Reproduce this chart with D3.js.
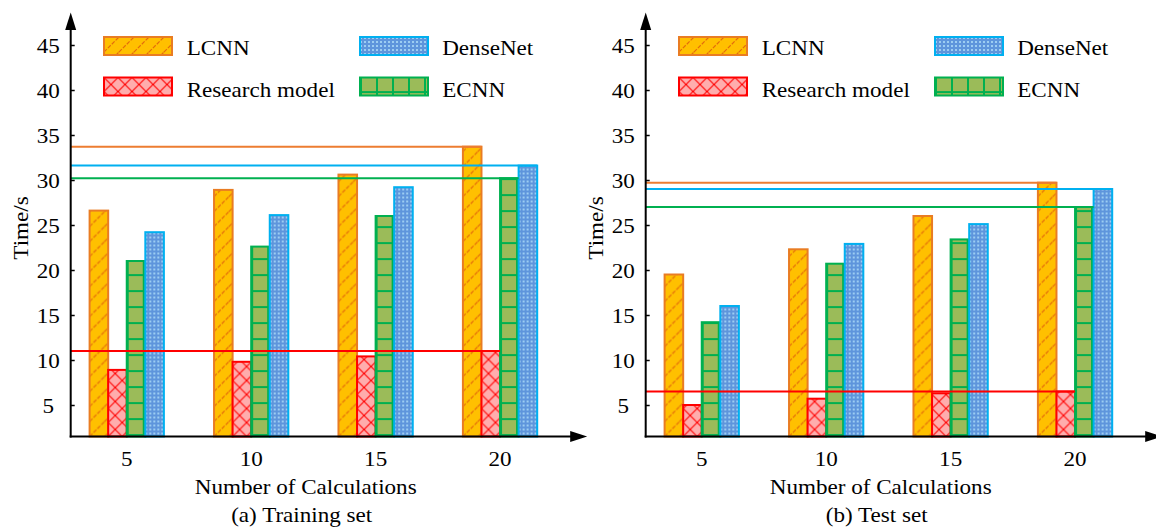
<!DOCTYPE html>
<html><head><meta charset="utf-8">
<script src="https://cdn.jsdelivr.net/npm/d3@7"></script>
<style>
body{margin:0;background:#fff}
svg text{font-family:"Liberation Serif","Times New Roman",serif;fill:#000;font-size:22px}
</style>
</head><body><svg id="c" width="1156" height="528" font-family="Liberation Serif, Times New Roman, serif"></svg>
<script>
// ---------- data ----------
const categories = ["5", "10", "15", "20"];
const seriesNames = ["LCNN", "Research model", "ECNN", "DenseNet"];
const trainLCNN = [26.6, 28.9, 30.6, 33.7];
const trainResearch = [8.9, 9.8, 10.4, 11.0];
const trainECNN = [21.0, 22.6, 26.0, 30.2];
const trainDenseNet = [24.2, 26.1, 29.2, 31.6];
const testLCNN = [19.5, 22.3, 26.0, 29.7];
const testResearch = [5.0, 5.7, 6.3, 6.5];
const testECNN = [14.2, 20.7, 23.4, 27.0];
const testDenseNet = [16.0, 22.9, 25.1, 29.0];
const yTicks = [5, 10, 15, 20, 25, 30, 35, 40, 45];
const yLabel = "Time/s";
const xLabel = "Number of Calculations";
const panelTitles = ["(a) Training set", "(b) Test set"];

const panels = [
  {title: panelTitles[0], series: [trainLCNN, trainResearch, trainECNN, trainDenseNet]},
  {title: panelTitles[1], series: [testLCNN, testResearch, testECNN, testDenseNet]}
];

// ---------- styles ----------
const styles = [
  {stroke: "#E97C23", pat: "pHatch"},
  {stroke: "#FF0000", pat: "pCross"},
  {stroke: "#00B050", pat: "pGrid"},
  {stroke: "#00B0F0", pat: "pDots"}
];
const lineColors = ["#ED7D31", "#FF0000", "#00B050", "#00B0F0"];
const SX = 1.05;

const svg = d3.select("#c");
svg.append("rect").attr("width", 1156).attr("height", 528).attr("fill", "#fff");
const defs = svg.append("defs");

// hatch
let p = defs.append("pattern").attr("id", "pHatch").attr("patternUnits", "userSpaceOnUse")
  .attr("width", 15).attr("height", 15);
p.append("rect").attr("width", 15).attr("height", 15).attr("fill", "#FFC000");
p.append("path").attr("d", "M0,15L15,0M-2,2L2,-2M13,17L17,13")
  .attr("stroke", "#E46C0A").attr("stroke-width", 1.2).attr("stroke-dasharray", "4,1.5");
// cross
p = defs.append("pattern").attr("id", "pCross").attr("patternUnits", "userSpaceOnUse")
  .attr("width", 14).attr("height", 14);
p.append("rect").attr("width", 14).attr("height", 14).attr("fill", "#FFADAD");
p.append("path").attr("d", "M0,0L14,14M14,0L0,14").attr("stroke", "#FF0000").attr("stroke-width", 1.1);
// grid
p = defs.append("pattern").attr("id", "pGrid").attr("patternUnits", "userSpaceOnUse")
  .attr("width", 16).attr("height", 16).attr("y", -2.4);
p.append("rect").attr("width", 16).attr("height", 16).attr("fill", "#9BBB59");
p.append("rect").attr("width", 16).attr("height", 2).attr("fill", "#00B050");
p.append("rect").attr("width", 2).attr("height", 16).attr("fill", "#00B050");
// dots
p = defs.append("pattern").attr("id", "pDots").attr("patternUnits", "userSpaceOnUse")
  .attr("width", 4).attr("height", 4);
p.append("rect").attr("width", 4).attr("height", 4).attr("fill", "#5E95DC");
p.append("rect").attr("width", 2).attr("height", 2).attr("fill", "#9CCDF2");

// ---------- scales ----------
const baseline = 436.5;
const y = d3.scaleLinear().domain([1.5, 45]).range([baseline, 45]);

function stretch(sel, x, yy, anchor) {
  sel.attr("x", 0).attr("y", 0).attr("dy", null)
    .attr("text-anchor", anchor || "middle")
    .attr("transform", `translate(${x},${yy}) scale(${SX},1)`);
}

const axisXs = [70.7, 645.7];

panels.forEach((panel, pi) => {
  const ax = axisXs[pi];
  const g = svg.append("g");
  const x = d3.scaleBand().domain(categories).range([ax + 18.9, ax + 466.5]).paddingInner(0.403).paddingOuter(0);
  const xs = d3.scaleBand().domain(seriesNames).range([0, x.bandwidth()]).padding(0);

  // bars
  seriesNames.forEach((s, si) => {
    panel.series[si].forEach((v, ci) => {
      const bx = x(categories[ci]) + xs(s);
      const h = baseline - y(v);
      g.append("g").attr("transform", `translate(${bx},${baseline})`)
        .append("rect").attr("x", 0).attr("y", -h)
        .attr("width", xs.bandwidth()).attr("height", h)
        .attr("fill", `url(#${styles[si].pat})`)
        .attr("stroke", styles[si].stroke).attr("stroke-width", 2);
    });
  });

  // reference lines at last-category values
  seriesNames.forEach((s, si) => {
    const vals = panel.series[si];
    const last = categories[categories.length - 1];
    g.append("line")
      .attr("x1", ax).attr("x2", x(last) + xs(s) + xs.bandwidth())
      .attr("y1", y(vals[vals.length - 1])).attr("y2", y(vals[vals.length - 1]))
      .attr("stroke", lineColors[si]).attr("stroke-width", 2);
  });

  // y axis
  const ya = g.append("g").attr("transform", `translate(${ax},0)`)
    .call(d3.axisLeft(y).tickValues(yTicks).tickSizeInner(-4).tickSizeOuter(0).tickPadding(0));
  ya.attr("font-family", null).attr("font-size", null);
  ya.select(".domain").remove();
  ya.selectAll(".tick line").attr("stroke", "#000").attr("stroke-width", 1.5);
  ya.selectAll(".tick text").each(function () {
    stretch(d3.select(this), -22.5, 0);
    d3.select(this).attr("dominant-baseline", "central");
  });

  // x axis labels
  const xa = g.append("g").attr("transform", `translate(0,${baseline})`)
    .call(d3.axisBottom(x).tickSize(0).tickPadding(0));
  xa.attr("font-family", null).attr("font-size", null);
  xa.select(".domain").remove();
  xa.selectAll(".tick text").each(function () {
    stretch(d3.select(this), 0, 29.5);
  });

  // axis lines with arrows
  g.append("line").attr("x1", ax).attr("x2", ax).attr("y1", baseline + 1).attr("y2", 28)
    .attr("stroke", "#000").attr("stroke-width", 2);
  g.append("path").attr("d", `M${ax},12.5L${ax - 5.5},30L${ax + 5.5},30Z`).attr("fill", "#000");
  g.append("line").attr("x1", ax - 1).attr("x2", ax + 502).attr("y1", baseline).attr("y2", baseline)
    .attr("stroke", "#000").attr("stroke-width", 2);
  g.append("path").attr("d", `M${ax + 516.5},${baseline}L${ax + 499.5},${baseline - 5.5}L${ax + 499.5},${baseline + 5.5}Z`).attr("fill", "#000");

  // axis titles
  g.append("text").text(yLabel)
    .attr("text-anchor", "middle").attr("dominant-baseline", "central")
    .attr("transform", `translate(${ax - 50},228) rotate(-90) scale(${SX},1)`);
  stretch(g.append("text").text(xLabel), ax + 235, 494);
  stretch(g.append("text").text(panel.title), ax + 231, 522);

  // legend
  const legPos = [[0, 0], [0, 1], [1, 1], [1, 0]];
  seriesNames.forEach((s, si) => {
    const [col, row] = legPos[si];
    const sx = ax + (col ? 289.3 : 33.3);
    const sy = row ? 77.5 : 37;
    g.append("g").attr("transform", `translate(${sx},${sy})`)
      .append("rect").attr("width", 68).attr("height", 18)
      .attr("fill", `url(#${styles[si].pat})`)
      .attr("stroke", styles[si].stroke).attr("stroke-width", 2);
    stretch(g.append("text").text(s), ax + (col ? 371.5 : 116), row ? 96.5 : 54.5, "start");
  });
});
</script>
</body></html>
